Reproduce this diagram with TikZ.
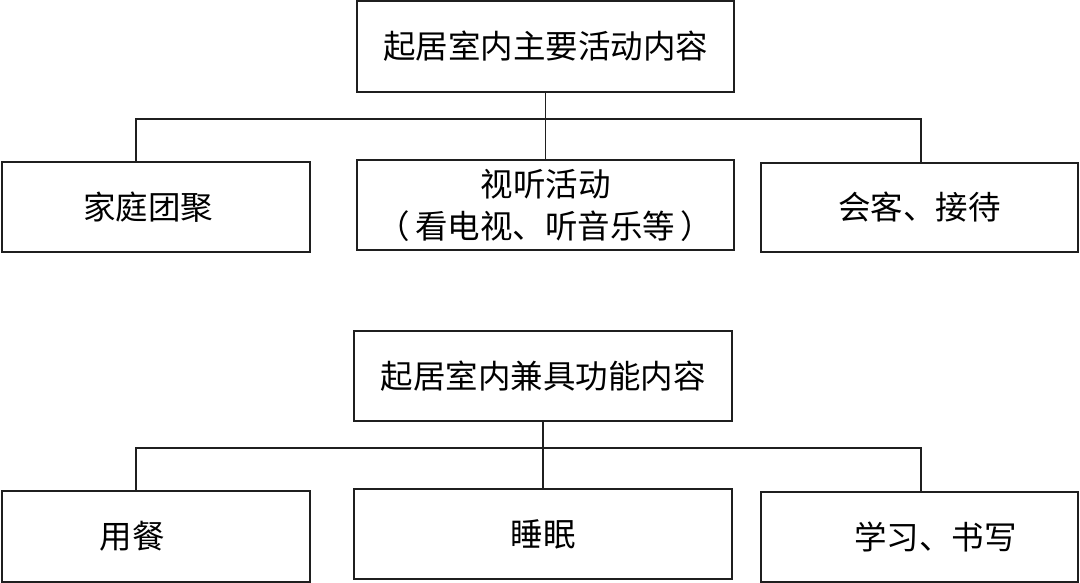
\documentclass[tikz,border=0pt]{standalone}
\usepackage{fontspec}
\newfontfamily\cjk{Noto Sans CJK SC}
\begin{document}
\begin{tikzpicture}[x=1pt,y=-1pt,
  box/.style={draw=black!88,line width=1.6pt,rectangle,inner sep=0pt,align=center,
    font=\cjk\fontsize{32.5}{42}\selectfont},
  link/.style={draw=black!88,line width=1.6pt}]
\useasboundingbox (0,0) rectangle (1080,583);
% group 1
\node[box,minimum width=377pt,minimum height=91pt] (t1) at (545.5,46.5) {起居室内主要活动内容};
\node[box,minimum width=308pt,minimum height=90pt] (l1) at (156,207) {\hspace*{-16pt}家庭团聚};
\node[box,minimum width=377pt,minimum height=90pt] (m1) at (545.5,205) {视听活动\\（\,看电视、听音乐等\,）};
\node[box,minimum width=317pt,minimum height=89pt] (r1) at (919.5,207.5) {会客、接待};
\coordinate (bl1) at (136,119);
\coordinate (br1) at (921,119);
\draw[link] (bl1 |- l1.north) -- (bl1) -- (br1) -- (br1 |- r1.north);
\draw[link] (t1.south) -- (m1.north);
% group 2
\node[box,minimum width=378pt,minimum height=90pt] (t2) at (543,376) {起居室内兼具功能内容};
\node[box,minimum width=308pt,minimum height=91pt] (l2) at (156,536.5) {\hspace*{-48pt}用餐};
\node[box,minimum width=378pt,minimum height=90pt] (m2) at (543,534) {睡眠};
\node[box,minimum width=317pt,minimum height=90pt] (r2) at (919.5,537) {\hspace*{32pt}学习、书写};
\coordinate (bl2) at (136,448);
\coordinate (br2) at (921,448);
\draw[link] (bl2 |- l2.north) -- (bl2) -- (br2) -- (br2 |- r2.north);
\draw[link] (t2.south) -- (m2.north);
\end{tikzpicture}
\end{document}
